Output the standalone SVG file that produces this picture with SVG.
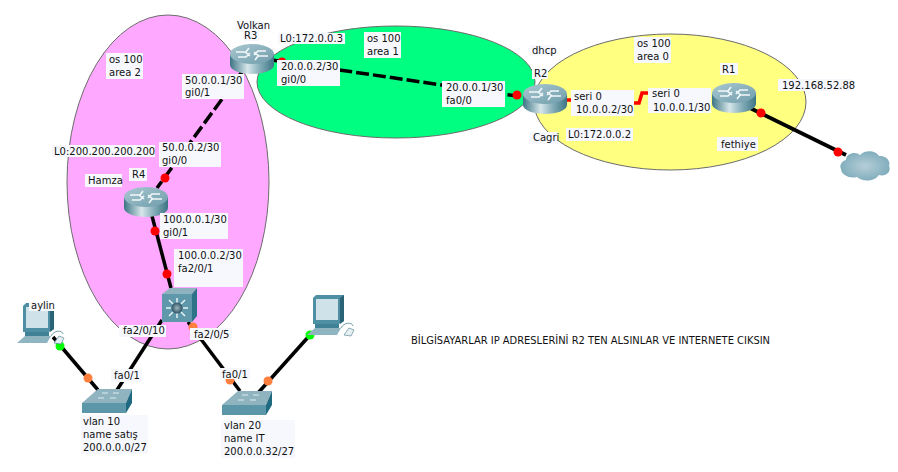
<svg xmlns="http://www.w3.org/2000/svg" width="898" height="472" viewBox="0 0 898 472">
<style>
text{font-family:"DejaVu Sans",Verdana,sans-serif;font-size:10px;fill:#111}
.bg{fill:#f6f8fe}
.area{stroke:#6b6b6b;stroke-width:1}
.link{fill:none;stroke:#000;stroke-width:3.5}
.dash{stroke-dasharray:13 4}
.red{fill:#f00}.org{fill:#ff7f3f}.grn{fill:#0f0}
</style>
<defs>
<linearGradient id="cyl" x1="0" x2="1" y1="0" y2="0"><stop offset="0" stop-color="#3d7585"/><stop offset=".4" stop-color="#d6e6ea"/><stop offset=".7" stop-color="#7fa9b5"/><stop offset="1" stop-color="#3d7585"/></linearGradient>
<linearGradient id="top" x1="0" x2="1" y1="0" y2="1"><stop offset="0" stop-color="#a9c8d1"/><stop offset="1" stop-color="#6f9cab"/></linearGradient>
<radialGradient id="cld"><stop offset="0" stop-color="#b5ced7"/><stop offset="1" stop-color="#82aebd"/></radialGradient>
<radialGradient id="hub"><stop offset="0" stop-color="#9fb6bf"/><stop offset="1" stop-color="#2f5464"/></radialGradient>
<g id="router">
<path d="M0 10V21C0 26 10 30 22 30S44 26 44 21V10Z" fill="url(#cyl)"/>
<ellipse cx="22" cy="10" rx="22" ry="10" fill="url(#top)"/>
<path d="M6 8H15L20 12M38 12H29L24 8M19 4L16 8M25 16L28 12M8 13H16L20 9M36 7H28L24 11" fill="none" stroke="#f2f8fa" stroke-width="1.6"/>
</g>
<g id="sw">
<path d="M0 14L16 0H50L44 14Z" fill="#8fb3bf"/>
<path d="M0 14H44V24H0Z" fill="#5b97a9"/>
<path d="M44 14L50 0V14L44 24Z" fill="#1f6a80"/>
<path d="M16 9H22M28 9H34M20 4H26M31 4H37" stroke="#dcecf0" stroke-width="1"/>
</g>
<g id="pc">
<path d="M6 3L9 0H37V26L32 29H6Z" fill="#4f8fa3"/>
<path d="M9 4H31V25H9Z" fill="#cfe2ea"/>
<path d="M33 3L37 0V26L33 29Z" fill="#2a6376"/>
<path d="M8 29H32V33H8Z" fill="#3f8296"/>
<path d="M0 40L8 33H34L30 40Z" fill="#8fb5c1"/>
<path d="M34 33C37 27 45 27 46 31" fill="none" stroke="#6f9dab" stroke-width="1"/>
<path d="M37 40L42 33L47 35L44 41Z" fill="#e6f0f3" stroke="#5d8b99" stroke-width=".7"/>
</g>
</defs>

<g id="areas">
<ellipse class="area" cx="168" cy="182" rx="101" ry="167" fill="#ffa8ff"/>
<ellipse class="area" cx="396" cy="82" rx="139" ry="56" fill="#00ff80"/>
<ellipse class="area" cx="670" cy="102" rx="136" ry="68" fill="#ffff80"/>
</g>

<g id="connectors">
<path class="link dash" d="M252 58L157 188"/>
<path class="link" d="M152 216L171 288"/>
<path class="link" d="M162 320L117 390"/>
<path class="link" d="M188 322L240 391"/>
<path class="link" d="M53 337L98 390"/>
<path class="link" d="M310 335L258 393"/>
<path class="link dash" d="M272 60L523 97"/>
<path class="link" style="stroke-width:4" d="M750 108L846 155"/>
<path d="M566 100H628V103H639L642 93H648" fill="none" stroke="#f00" stroke-width="3.5"/>
<circle class="red" cx="282" cy="62" r="4.5"/>
<circle class="red" cx="517" cy="95" r="4.5"/>
<circle class="red" cx="165" cy="178" r="4.5"/>
<circle class="red" cx="155" cy="231" r="4.5"/>
<circle class="red" cx="167" cy="274" r="4.5"/>
<circle class="red" cx="761" cy="113" r="4.5"/>
<circle class="red" cx="838" cy="152" r="4.5"/>
<circle class="org" cx="193" cy="327" r="4.5"/>
<circle class="org" cx="230" cy="380" r="4.5"/>
<circle class="org" cx="88" cy="378" r="4.5"/>
<circle class="org" cx="268" cy="381" r="4.5"/>
<circle class="grn" cx="60" cy="346" r="4.5"/>
<circle class="grn" cx="310" cy="335" r="4.5"/>
</g>

<g id="R3"><use href="#router" x="230" y="44"/>
<rect class="bg" x="236" y="21" width="31" height="10"/><text x="237" y="29">Volkan</text>
<rect class="bg" x="243" y="31" width="16" height="10"/><text x="244" y="39">R3</text></g>
<g id="R4"><use href="#router" x="124" y="187"/>
<rect class="bg" x="85" y="174" width="37" height="13"/><text x="88" y="184">Hamza</text>
<rect class="bg" x="129" y="168" width="18" height="13"/><text x="132" y="178">R4</text></g>
<g id="R2"><use href="#router" x="523" y="84"/>
<rect class="bg" x="532" y="69" width="16" height="10"/><text x="534" y="77">R2</text>
<rect class="bg" x="530" y="45" width="25" height="10"/><text x="532" y="54">dhcp</text>
<rect class="bg" x="529" y="132" width="29" height="12"/><text x="533" y="141">Cagri</text></g>
<g id="R1"><use href="#router" x="712" y="83"/>
<rect class="bg" x="720" y="63" width="18" height="12"/><text x="722" y="73">R1</text></g>

<g id="MLS">
<path d="M162 294L170 288H197L192 294Z" fill="#8eb3bf"/>
<path d="M162 294H192V322H162Z" fill="#5f98aa"/>
<path d="M192 294L197 288V316L192 322Z" fill="#2f7388"/>
<path d="M177 298V303M177 313V318M166 308H171M183 308H188M169 300L173 304M185 300L181 304M169 316L173 312M185 316L181 312" stroke="#e6f2f5" stroke-width="1.5"/>
<circle cx="177" cy="308" r="5.5" fill="url(#hub)"/>
</g>
<g id="SW1"><use href="#sw" x="82" y="389"/></g>
<g id="SW2"><use href="#sw" x="222" y="391"/></g>
<g id="PC1"><use href="#pc" x="17" y="303"/>
<rect class="bg" x="29" y="302" width="25" height="9"/><text x="31" y="309">aylin</text></g>
<g id="PC2"><use href="#pc" x="307" y="295"/></g>
<g id="Cloud"><path d="M846 160C846 153 856 151 860 155C866 149 876 151 879 156C886 155 891 161 889 166C892 172 885 177 879 175C874 182 862 182 857 177C850 179 841 175 841 169C839 165 842 161 846 160Z" fill="url(#cld)"/></g>

<g id="labels">
<rect class="bg" x="106" y="53" width="37" height="26"/><text x="109" y="63">os 100</text><text x="109" y="76">area 2</text>
<rect class="bg" x="182" y="74" width="62" height="25"/><text x="185" y="84">50.0.0.1/30</text><text x="185" y="96">gi0/1</text>
<rect class="bg" x="52" y="145" width="103" height="12"/><text x="54" y="155">L0:200.200.200.200</text>
<rect class="bg" x="159" y="142" width="62" height="25"/><text x="162" y="151">50.0.0.2/30</text><text x="162" y="164">gi0/0</text>
<rect class="bg" x="160" y="213" width="68" height="26"/><text x="163" y="223">100.0.0.1/30</text><text x="163" y="236">gi0/1</text>
<rect class="bg" x="174" y="249" width="69" height="38"/><text x="178" y="259">100.0.0.2/30</text><text x="178" y="272">fa2/0/1</text>
<rect class="bg" x="119" y="325" width="47" height="12"/><text x="123" y="334">fa2/0/10</text>
<rect class="bg" x="190" y="328" width="42" height="12"/><text x="194" y="338">fa2/0/5</text>
<rect class="bg" x="111" y="369" width="31" height="13"/><text x="114" y="379">fa0/1</text>
<rect class="bg" x="220" y="368" width="30" height="11"/><text x="222" y="378">fa0/1</text>
<rect class="bg" x="81" y="415" width="67" height="39"/><text x="83" y="425">vlan 10</text><text x="83" y="438">name satış</text><text x="83" y="451">200.0.0.0/27</text>
<rect class="bg" x="221" y="420" width="74" height="38"/><text x="224" y="429">vlan 20</text><text x="224" y="442">name IT</text><text x="224" y="455">200.0.0.32/27</text>
<rect class="bg" x="278" y="33" width="67" height="11"/><text x="280" y="42">L0:172.0.0.3</text>
<rect class="bg" x="364" y="32" width="37" height="26"/><text x="367" y="42">os 100</text><text x="367" y="55">area 1</text>
<rect class="bg" x="277" y="60" width="63" height="26"/><text x="281" y="70">20.0.0.2/30</text><text x="281" y="83">gi0/0</text>
<rect class="bg" x="442" y="81" width="63" height="26"/><text x="446" y="91">20.0.0.1/30</text><text x="446" y="104">fa0/0</text>
<rect class="bg" x="634" y="37" width="37" height="26"/><text x="637" y="47">os 100</text><text x="637" y="60">area 0</text>
<rect class="bg" x="778" y="79" width="75" height="12"/><text x="782" y="89">192.168.52.88</text>
<rect class="bg" x="571" y="90" width="63" height="26"/><text x="574" y="100">seri 0</text><text x="576" y="113">10.0.0.2/30</text>
<rect class="bg" x="648" y="88" width="63" height="25"/><text x="652" y="97">seri 0</text><text x="653" y="111">10.0.0.1/30</text>
<rect class="bg" x="566" y="128" width="67" height="13"/><text x="568" y="138">L0:172.0.0.2</text>
<rect class="bg" x="717" y="137" width="41" height="14"/><text x="721" y="148">fethiye</text>
<text x="411" y="344" textLength="359" lengthAdjust="spacingAndGlyphs">BİLGİSAYARLAR IP ADRESLERİNİ R2 TEN ALSINLAR VE INTERNETE CIKSIN</text>
</g>
</svg>
